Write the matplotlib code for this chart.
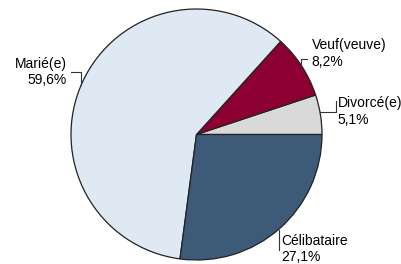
import numpy as np
import matplotlib
matplotlib.use("Agg")
import matplotlib.pyplot as plt

# data (counter-clockwise from 3 o'clock)
categories = ["Divorcé(e)", "Veuf(veuve)", "Marié(e)", "Célibataire"]
values = [5.1, 8.2, 59.6, 27.1]
pct_labels = ["5,1%", "8,2%", "59,6%", "27,1%"]
colors = ["#d9d9d9", "#8c0032", "#dfe9f4", "#3d5a78"]

plt.rcParams["font.family"] = ["Liberation Sans", "DejaVu Sans"]

W, H = 401, 264
cx, cy, r = 196.5, 134.5, 125.5
fig = plt.figure(figsize=(W / 100, H / 100), dpi=100)
ax = fig.add_axes([(cx - r) / W, (H - cy - r) / H, 2 * r / W, 2 * r / H])
ax.pie(values, colors=colors, startangle=0, counterclock=True, radius=1,
       wedgeprops=dict(edgecolor="#222222", linewidth=0.9))
ax.set_xlim(-1, 1)
ax.set_ylim(-1, 1)
ax.set_aspect("equal")
ax.axis("off")


def px(x):
    return (x - cx) / r


def py(y):
    return (cy - y) / r


# label position (pixels), alignment, leader elbow (pixels, starts on the circle)
lab = {
    "Marié(e)": dict(pos=(67, 72), ha="right", lead="v", lx=81, ly=72, ex=71),
    "Veuf(veuve)": dict(pos=(311.5, 53.5), ha="left", lead="v", lx=301, ly=59.3, ex=307),
    "Divorcé(e)": dict(pos=(337.5, 111.5), ha="left", lead="h", lx=336, ly=111.5, ey=101),
    "Célibataire": dict(pos=(281.5, 249), ha="left", lead="v", lx=278.5, ly=250, ex=None),
}

for cat, pct in zip(categories, pct_labels):
    d = lab[cat]
    x, y = d["pos"]
    ax.text(px(x), py(y), cat + "\n" + pct, ha=d["ha"], va="center",
            multialignment=d["ha"], fontsize=10, linespacing=1.25,
            color="black", clip_on=False)
    if d["lead"] == "v":
        X = px(d["lx"])
        Yl = py(d["ly"])
        Ye = np.sqrt(1 - X ** 2) * np.sign(Yl)
        xs = [X, X]
        ys = [Ye, Yl]
        if d["ex"] is not None:
            xs.append(px(d["ex"]))
            ys.append(Yl)
    else:
        Y = py(d["ly"])
        Xe = np.sqrt(1 - Y ** 2)
        xs = [Xe, px(d["lx"]), px(d["lx"])]
        ys = [Y, Y, py(d["ey"])]
    ax.plot(xs, ys, color="#333333", linewidth=0.8, clip_on=False)

fig.savefig("out.png", dpi=100)
